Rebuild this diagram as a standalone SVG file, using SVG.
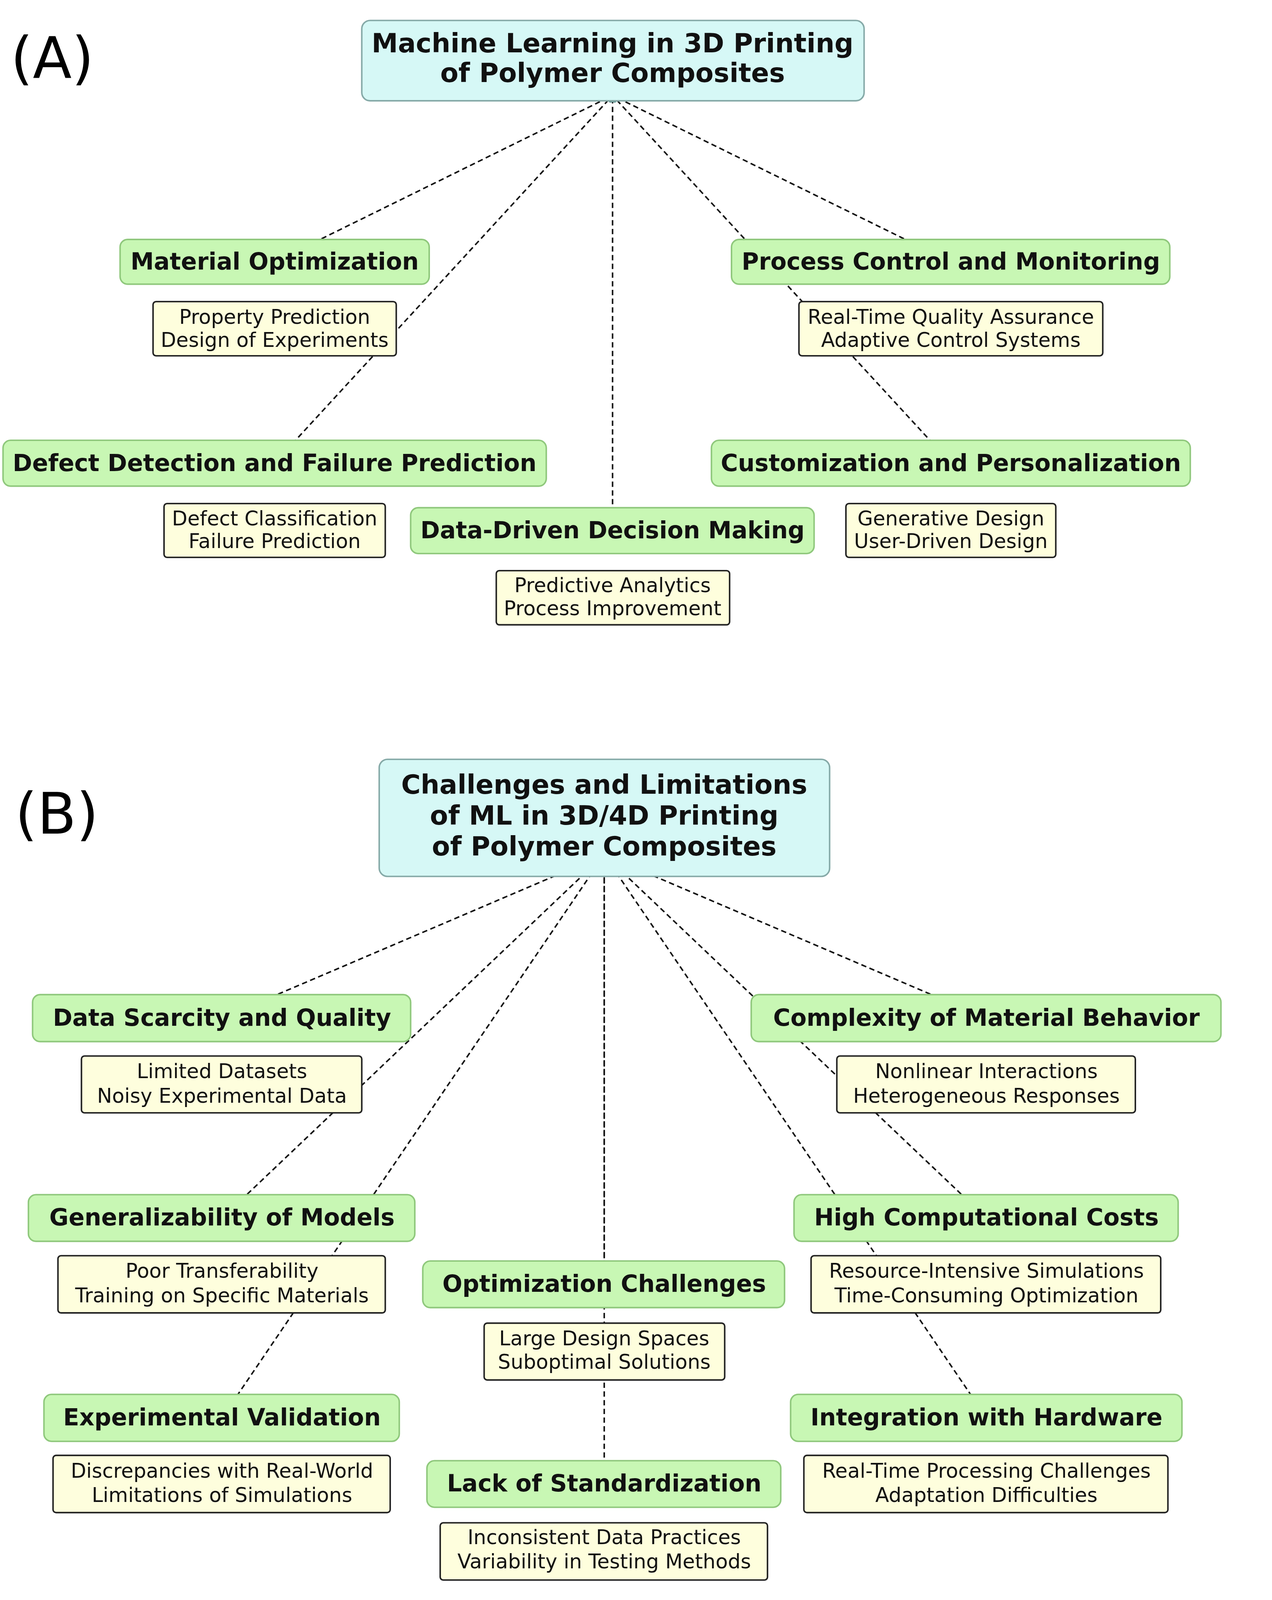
<svg xmlns="http://www.w3.org/2000/svg" width="3257" height="4211" viewBox="0 0 3257 4211">
<defs>
<style>
.root{fill:#d6f8f6;stroke:#86aaa8;stroke-width:4}
.g{fill:#c8f7b4;stroke:#8fc87c;stroke-width:4}
.y{fill:#fefedd;stroke:#222;stroke-width:4}
.rt{font-family:"DejaVu Sans",sans-serif;font-weight:bold;font-size:70px;text-anchor:middle;fill:#111}
.gt{font-family:"DejaVu Sans",sans-serif;font-weight:bold;font-size:62px;text-anchor:middle;fill:#111}
.yt{font-family:"DejaVu Sans",sans-serif;font-size:53px;text-anchor:middle;fill:#111}
.lab{font-family:"DejaVu Sans",sans-serif;font-size:150px;fill:#000}
.c{stroke:#111;stroke-width:4;stroke-dasharray:14 9;fill:none;marker-end:url(#ah)}
</style>
<marker id="ah" viewBox="0 0 10 10" refX="9" refY="5" markerWidth="5" markerHeight="5" orient="auto-start-reverse"><path d="M0,0L10,5L0,10z" fill="#5a8f8c"/></marker>
</defs>
<rect width="3257" height="4211" fill="#fff"/>
<g transform="scale(0.97)">
<text class="lab" x="28" y="205">(A)</text>
<text class="lab" x="40" y="2200">(B)</text>
<g id="connectors">
<line class="c" x1="725" y1="691" x2="1617" y2="252"/>
<line class="c" x1="2510" y1="691" x2="1617" y2="252"/>
<line class="c" x1="725" y1="1222" x2="1617" y2="252"/>
<line class="c" x1="2510" y1="1222" x2="1617" y2="252"/>
<line class="c" x1="1617" y1="1400" x2="1617" y2="252"/>
<line class="c" x1="586" y1="2687" x2="1595" y2="2256"/>
<line class="c" x1="586" y1="3215" x2="1595" y2="2256"/>
<line class="c" x1="586" y1="3742" x2="1595" y2="2256"/>
<line class="c" x1="2604" y1="2687" x2="1595" y2="2256"/>
<line class="c" x1="2604" y1="3215" x2="1595" y2="2256"/>
<line class="c" x1="2604" y1="3742" x2="1595" y2="2256"/>
<line class="c" x1="1595" y1="3390" x2="1595" y2="2256"/>
<line class="c" x1="1595" y1="3916" x2="1595" y2="2256"/>
</g>
<g id="rootA"><rect class="root" x="955" y="54" width="1326" height="212" rx="22"/><text class="rt" x="1617" y="138">Machine Learning in 3D Printing</text><text class="rt" x="1617" y="216">of Polymer Composites</text></g>
<g id="matopt"><rect class="g" x="317" y="632" width="816" height="118" rx="20"/><text class="gt" x="725" y="711">Material Optimization</text></g>
<g id="matopt-d"><rect class="y" x="404" y="796" width="642" height="143" rx="8"/><text class="yt" x="725" y="855">Property Prediction</text><text class="yt" x="725" y="915">Design of Experiments</text></g>
<g id="proc"><rect class="g" x="1931" y="632" width="1157" height="118" rx="20"/><text class="gt" x="2510" y="711">Process Control and Monitoring</text></g>
<g id="proc-d"><rect class="y" x="2109" y="796" width="802" height="143" rx="8"/><text class="yt" x="2510" y="855">Real-Time Quality Assurance</text><text class="yt" x="2510" y="915">Adaptive Control Systems</text></g>
<g id="defect"><rect class="g" x="8" y="1162" width="1434" height="121" rx="20"/><text class="gt" x="725" y="1243">Defect Detection and Failure Prediction</text></g>
<g id="defect-d"><rect class="y" x="433" y="1329" width="584" height="142" rx="8"/><text class="yt" x="725" y="1387">Defect Classification</text><text class="yt" x="725" y="1446">Failure Prediction</text></g>
<g id="custom"><rect class="g" x="1878" y="1162" width="1264" height="121" rx="20"/><text class="gt" x="2510" y="1243">Customization and Personalization</text></g>
<g id="custom-d"><rect class="y" x="2233" y="1329" width="554" height="142" rx="8"/><text class="yt" x="2510" y="1387">Generative Design</text><text class="yt" x="2510" y="1446">User-Driven Design</text></g>
<g id="data"><rect class="g" x="1084" y="1340" width="1065" height="121" rx="20"/><text class="gt" x="1617" y="1421">Data-Driven Decision Making</text></g>
<g id="data-d"><rect class="y" x="1310" y="1506" width="616" height="143" rx="8"/><text class="yt" x="1617" y="1563">Predictive Analytics</text><text class="yt" x="1617" y="1624">Process Improvement</text></g>

<g id="rootB"><rect class="root" x="1001" y="2004" width="1189" height="309" rx="22"/><text class="rt" x="1595" y="2095">Challenges and Limitations</text><text class="rt" x="1595" y="2176">of ML in 3D/4D Printing</text><text class="rt" x="1595" y="2258">of Polymer Composites</text></g>
<g id="scarcity"><rect class="g" x="86" y="2625" width="998" height="124" rx="20"/><text class="gt" x="586" y="2707">Data Scarcity and Quality</text></g>
<g id="scarcity-d"><rect class="y" x="215" y="2787" width="740" height="150" rx="8"/><text class="yt" x="586" y="2845">Limited Datasets</text><text class="yt" x="586" y="2910">Noisy Experimental Data</text></g>
<g id="complex"><rect class="g" x="1983" y="2625" width="1240" height="124" rx="20"/><text class="gt" x="2604" y="2707">Complexity of Material Behavior</text></g>
<g id="complex-d"><rect class="y" x="2209" y="2787" width="788" height="150" rx="8"/><text class="yt" x="2604" y="2845">Nonlinear Interactions</text><text class="yt" x="2604" y="2910">Heterogeneous Responses</text></g>
<g id="general"><rect class="g" x="75" y="3153" width="1020" height="123" rx="20"/><text class="gt" x="586" y="3234">Generalizability of Models</text></g>
<g id="general-d"><rect class="y" x="153" y="3314" width="864" height="151" rx="8"/><text class="yt" x="586" y="3372">Poor Transferability</text><text class="yt" x="586" y="3437">Training on Specific Materials</text></g>
<g id="compute"><rect class="g" x="2096" y="3153" width="1014" height="123" rx="20"/><text class="gt" x="2604" y="3234">High Computational Costs</text></g>
<g id="compute-d"><rect class="y" x="2141" y="3314" width="923" height="151" rx="8"/><text class="yt" x="2604" y="3372">Resource-Intensive Simulations</text><text class="yt" x="2604" y="3437">Time-Consuming Optimization</text></g>
<g id="optim"><rect class="g" x="1116" y="3328" width="955" height="123" rx="20"/><text class="gt" x="1595" y="3409">Optimization Challenges</text></g>
<g id="optim-d"><rect class="y" x="1278" y="3492" width="635" height="150" rx="8"/><text class="yt" x="1595" y="3550">Large Design Spaces</text><text class="yt" x="1595" y="3612">Suboptimal Solutions</text></g>
<g id="exper"><rect class="g" x="116" y="3680" width="938" height="124" rx="20"/><text class="gt" x="586" y="3762">Experimental Validation</text></g>
<g id="exper-d"><rect class="y" x="140" y="3841" width="890" height="151" rx="8"/><text class="yt" x="586" y="3900">Discrepancies with Real-World</text><text class="yt" x="586" y="3964">Limitations of Simulations</text></g>
<g id="integ"><rect class="g" x="2087" y="3680" width="1033" height="124" rx="20"/><text class="gt" x="2604" y="3762">Integration with Hardware</text></g>
<g id="integ-d"><rect class="y" x="2122" y="3841" width="961" height="151" rx="8"/><text class="yt" x="2604" y="3900">Real-Time Processing Challenges</text><text class="yt" x="2604" y="3964">Adaptation Difficulties</text></g>
<g id="standard"><rect class="g" x="1127" y="3855" width="934" height="123" rx="20"/><text class="gt" x="1595" y="3936">Lack of Standardization</text></g>
<g id="standard-d"><rect class="y" x="1162" y="4019" width="864" height="151" rx="8"/><text class="yt" x="1595" y="4075">Inconsistent Data Practices</text><text class="yt" x="1595" y="4139">Variability in Testing Methods</text></g>
</g>
</svg>
